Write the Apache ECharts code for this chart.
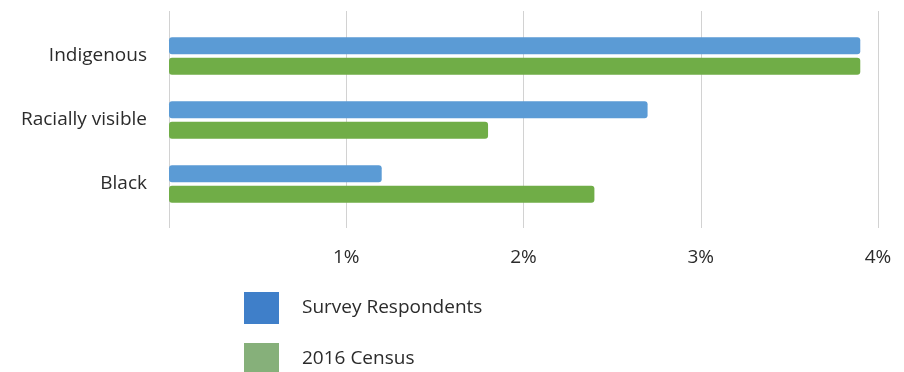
<!DOCTYPE html>
<html>
<head>
<meta charset="utf-8">
<script src="https://cdn.jsdelivr.net/npm/echarts@6/dist/echarts.min.js"></script>
<style>
  html, body { margin: 0; padding: 0; background: #fff; }
  #chart { width: 904px; height: 372px; }
</style>
</head>
<body>
<div id="chart"></div>
<script>
// Population groups, top to bottom
const categories = ['Indigenous', 'Racially visible', 'Black'];
// Share of each group, in percent
const surveyRespondents = [3.9, 2.7, 1.2];
const census2016 = [3.9, 1.8, 2.4];
// Percent axis ticks
const tickValues = [0, 1, 2, 3, 4];

const FONT = '"Open Sans", sans-serif';
const FONT_SIZE = 19;
const TEXT = '#2b2b2b';
const GRID_GRAY = '#d2d2d2';

// one legend box per series so the entries stack at fixed rows
function legendEntry(name, color, top) {
  return {
    orient: 'vertical',
    left: 244,
    top: top,
    padding: 0,
    itemWidth: 35,
    itemHeight: 32,
    icon: 'rect',
    selectedMode: false,
    textStyle: { fontSize: FONT_SIZE, color: TEXT, fontFamily: FONT, padding: [0, 0, 0, 18] },
    data: [{ name: name, itemStyle: { color: color } }]
  };
}

const chart = echarts.init(document.getElementById('chart'));
chart.setOption({
  animation: false,
  textStyle: { fontFamily: FONT },
  grid: { left: 169, right: 26, top: 24, height: 192, containLabel: false },
  xAxis: {
    type: 'value',
    min: tickValues[0],
    max: tickValues[tickValues.length - 1],
    interval: 1,
    offset: 12,
    axisLine: { show: false },
    splitLine: { show: false },
    // ticks drawn inward as full-height vertical rules
    axisTick: { show: true, inside: true, length: 217, lineStyle: { color: GRID_GRAY, width: 1 } },
    axisLabel: {
      margin: 20,
      fontSize: FONT_SIZE,
      color: TEXT,
      fontFamily: FONT,
      formatter: v => (v === 0 ? '' : v + '%')
    }
  },
  yAxis: {
    type: 'category',
    data: categories,
    inverse: true,
    axisLine: { show: false },
    axisTick: { show: false },
    splitLine: { show: false },
    axisLabel: { margin: 22, fontSize: FONT_SIZE, color: TEXT, fontFamily: FONT }
  },
  legend: [
    legendEntry('Survey Respondents', '#3f7fc9', 292),
    legendEntry('2016 Census', '#86b07a', 343)
  ],
  series: [
    {
      name: 'Survey Respondents',
      type: 'bar',
      data: surveyRespondents,
      barWidth: 17,
      barGap: '22%',
      itemStyle: { color: '#5b9bd5', borderRadius: 3 }
    },
    {
      name: '2016 Census',
      type: 'bar',
      data: census2016,
      barWidth: 17,
      barGap: '22%',
      itemStyle: { color: '#70ad47', borderRadius: 3 }
    }
  ]
});
</script>
</body>
</html>
